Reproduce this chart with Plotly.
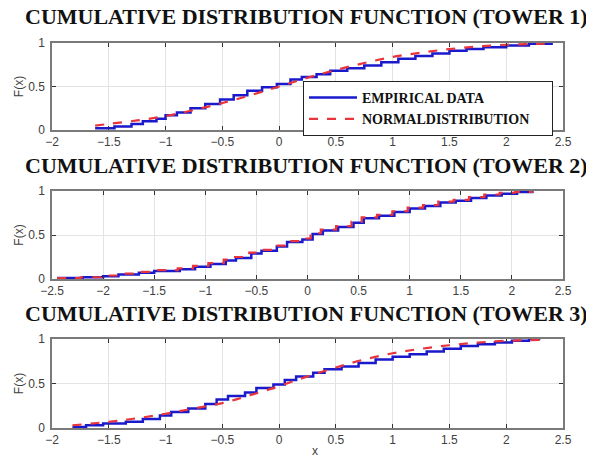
import plotly.graph_objects as go
from plotly.subplots import make_subplots

# ---------------- data ----------------
titles = ["CUMULATIVE DISTRIBUTION FUNCTION (TOWER 1)",
          "CUMULATIVE DISTRIBUTION FUNCTION (TOWER 2)",
          "CUMULATIVE DISTRIBUTION FUNCTION (TOWER 3)"]

# Tower 1 empirical CDF (step positions, level after step)
t1_emp_x = [-1.62, -1.45, -1.30, -1.20, -1.08, -1.00, -0.90, -0.78, -0.65, -0.52,
            -0.40, -0.28, -0.15, -0.02, 0.10, 0.20, 0.33, 0.45, 0.60, 0.75,
            0.90, 1.05, 1.20, 1.35, 1.50, 1.65, 1.80, 2.00, 2.20, 2.40]
t1_emp_y = [0.02, 0.04, 0.07, 0.10, 0.13, 0.17, 0.20, 0.25, 0.30, 0.35,
            0.40, 0.45, 0.49, 0.53, 0.58, 0.61, 0.64, 0.68, 0.71, 0.74,
            0.78, 0.82, 0.85, 0.88, 0.91, 0.93, 0.95, 0.97, 0.99, 1.00]
t1_norm_x = [-1.62, -1.50, -1.25, -1.00, -0.75, -0.50, -0.25, 0.00, 0.25, 0.50,
             0.75, 1.00, 1.25, 1.50, 1.75, 2.00, 2.25, 2.40]
t1_norm_y = [0.05, 0.07, 0.11, 0.16, 0.23, 0.31, 0.40, 0.50, 0.60, 0.69,
             0.77, 0.84, 0.89, 0.93, 0.96, 0.98, 0.99, 0.995]

# Tower 2
t2_emp_x = [-2.45, -2.20, -2.00, -1.85, -1.65, -1.50, -1.25, -1.10, -0.95, -0.80,
            -0.70, -0.55, -0.45, -0.30, -0.20, -0.05, 0.05, 0.15, 0.30, 0.45,
            0.55, 0.70, 0.85, 1.00, 1.15, 1.30, 1.45, 1.60, 1.75, 1.90, 2.05, 2.20]
t2_emp_y = [0.01, 0.02, 0.03, 0.05, 0.07, 0.09, 0.11, 0.14, 0.17, 0.21,
            0.24, 0.29, 0.32, 0.37, 0.42, 0.45, 0.51, 0.55, 0.59, 0.64,
            0.69, 0.72, 0.76, 0.80, 0.83, 0.87, 0.89, 0.92, 0.95, 0.97, 0.99, 1.00]
t2_norm_x = [-2.45, -2.22, -2.02, -1.87, -1.67, -1.52, -1.27, -1.12, -0.97, -0.82,
             -0.72, -0.57, -0.47, -0.32, -0.22, -0.07, 0.03, 0.13, 0.28, 0.43,
             0.53, 0.68, 0.83, 0.98, 1.13, 1.28, 1.43, 1.58, 1.73, 1.88, 2.03, 2.20]
t2_norm_y = [0.01, 0.02, 0.04, 0.06, 0.08, 0.10, 0.12, 0.15, 0.18, 0.22,
             0.25, 0.30, 0.33, 0.38, 0.43, 0.46, 0.52, 0.56, 0.60, 0.65,
             0.70, 0.73, 0.77, 0.81, 0.84, 0.88, 0.90, 0.93, 0.96, 0.98, 0.99, 0.995]

# Tower 3
t3_emp_x = [-1.82, -1.70, -1.55, -1.35, -1.20, -1.05, -0.95, -0.80, -0.65, -0.55,
            -0.45, -0.30, -0.20, -0.05, 0.05, 0.15, 0.30, 0.40, 0.55, 0.70,
            0.85, 1.00, 1.15, 1.30, 1.45, 1.60, 1.75, 1.90, 2.05, 2.20, 2.30]
t3_emp_y = [0.01, 0.03, 0.05, 0.07, 0.10, 0.14, 0.18, 0.22, 0.27, 0.32,
            0.36, 0.40, 0.45, 0.49, 0.54, 0.58, 0.62, 0.66, 0.69, 0.73,
            0.77, 0.80, 0.83, 0.86, 0.89, 0.92, 0.94, 0.96, 0.98, 1.00, 1.00]
t3_norm_x = [-1.82, -1.50, -1.25, -1.00, -0.75, -0.50, -0.25, 0.00, 0.25, 0.50,
             0.75, 1.00, 1.25, 1.50, 1.75, 2.00, 2.30]
t3_norm_y = [0.03, 0.07, 0.11, 0.16, 0.22, 0.28, 0.37, 0.47, 0.58, 0.68,
             0.77, 0.84, 0.89, 0.93, 0.96, 0.98, 0.99]

x_ranges = [[-2, 2.5], [-2.5, 2.5], [-2, 2.5]]
x_ticks = [[-2, -1.5, -1, -0.5, 0, 0.5, 1, 1.5, 2, 2.5],
           [-2.5, -2, -1.5, -1, -0.5, 0, 0.5, 1, 1.5, 2, 2.5],
           [-2, -1.5, -1, -0.5, 0, 0.5, 1, 1.5, 2, 2.5]]
y_ticks = [0, 0.5, 1]
legend_names = ["<b>EMPIRICAL DATA</b>", "<b>NORMALDISTRIBUTION</b>" + "\u00a0" * 5]

# ---------------- figure ----------------
OFF = 8                      # page body margin offset
W, H = 594 - OFF, 466 - OFF
ML, MR, MT, MB = 52 - OFF, 31, 43 - OFF, 38
PH = H - MT - MB
PW = W - ML - MR

def py(pix):
    return (H - MB - (pix - OFF)) / PH

def px(pix):
    return (pix - OFF - ML) / PW

fig = make_subplots(rows=3, cols=1)

BLUE = "#1a1acc"
RED = "#e8343c"
GREY = "#404040"

emp = [(t1_emp_x, t1_emp_y), (t2_emp_x, t2_emp_y), (t3_emp_x, t3_emp_y)]
nrm = [(t1_norm_x, t1_norm_y, "spline"), (t2_norm_x, t2_norm_y, "hv"), (t3_norm_x, t3_norm_y, "spline")]

for i in range(3):
    fig.add_trace(go.Scatter(x=emp[i][0], y=emp[i][1], mode="lines",
                             line=dict(color=BLUE, width=2.5, shape="hv"),
                             name=legend_names[0], showlegend=(i == 0)),
                  row=i + 1, col=1)
    fig.add_trace(go.Scatter(x=nrm[i][0], y=nrm[i][1], mode="lines",
                             line=dict(color=RED, width=2.2, dash="dash", shape=nrm[i][2]),
                             name=legend_names[1], showlegend=(i == 0)),
                  row=i + 1, col=1)

domains = [[py(130), py(43)], [py(279), py(191)], [py(428), py(339)]]
for i in range(3):
    xa = "xaxis" if i == 0 else f"xaxis{i+1}"
    ya = "yaxis" if i == 0 else f"yaxis{i+1}"
    fig.layout[xa].update(range=x_ranges[i], tickvals=x_ticks[i], domain=[0, 1],
                          showgrid=True, gridcolor="#e3e3e3", gridwidth=1,
                          zeroline=False, showline=True, linecolor="#7a7a7a", linewidth=1.5,
                          mirror="ticks", ticks="inside", ticklen=4, tickcolor="#333333",
                          automargin=False,
                          tickfont=dict(family="Liberation Sans, Arial", size=12, color=GREY))
    fig.layout[ya].update(range=[0, 1], tickvals=y_ticks, ticktext=["0", "0.5", "1"], domain=domains[i],
                          showgrid=True, gridcolor="#e3e3e3", gridwidth=1,
                          zeroline=False, showline=True, linecolor="#7a7a7a", linewidth=1.5,
                          mirror="ticks", ticks="inside", ticklen=4, tickcolor="#333333",
                          automargin=False, ticklabelstandoff=3,
                          tickfont=dict(family="Liberation Sans, Arial", size=12, color=GREY),
                          title=dict(text="F(x)", standoff=2,
                                     font=dict(family="Liberation Sans, Arial", size=12, color=GREY)))

title_y = [16, 165, 313]
for i in range(3):
    fig.add_annotation(text=f"<b>{titles[i]}</b>", xref="paper", yref="paper",
                       x=px(306), y=py(title_y[i]),
                       xanchor="center", yanchor="middle", showarrow=False,
                       font=dict(family="Liberation Serif, Times New Roman", size=22, color="#111111"))

fig.add_annotation(text="x", xref="paper", yref="paper",
                   x=px(315), y=py(451), xanchor="center", yanchor="middle",
                   showarrow=False, font=dict(family="Liberation Sans, Arial", size=12, color=GREY))

fig.update_layout(
    width=W, height=H,
    margin=dict(l=ML, r=MR, t=MT, b=MB),
    paper_bgcolor="white", plot_bgcolor="white",
    legend=dict(x=px(303), y=py(81), xanchor="left", yanchor="top",
                bgcolor="white", bordercolor="#222222", borderwidth=1,
                font=dict(family="Liberation Serif, Times New Roman", size=14, color="#111111"),
                itemwidth=48, tracegroupgap=0),
)

fig.write_html("out.html")
